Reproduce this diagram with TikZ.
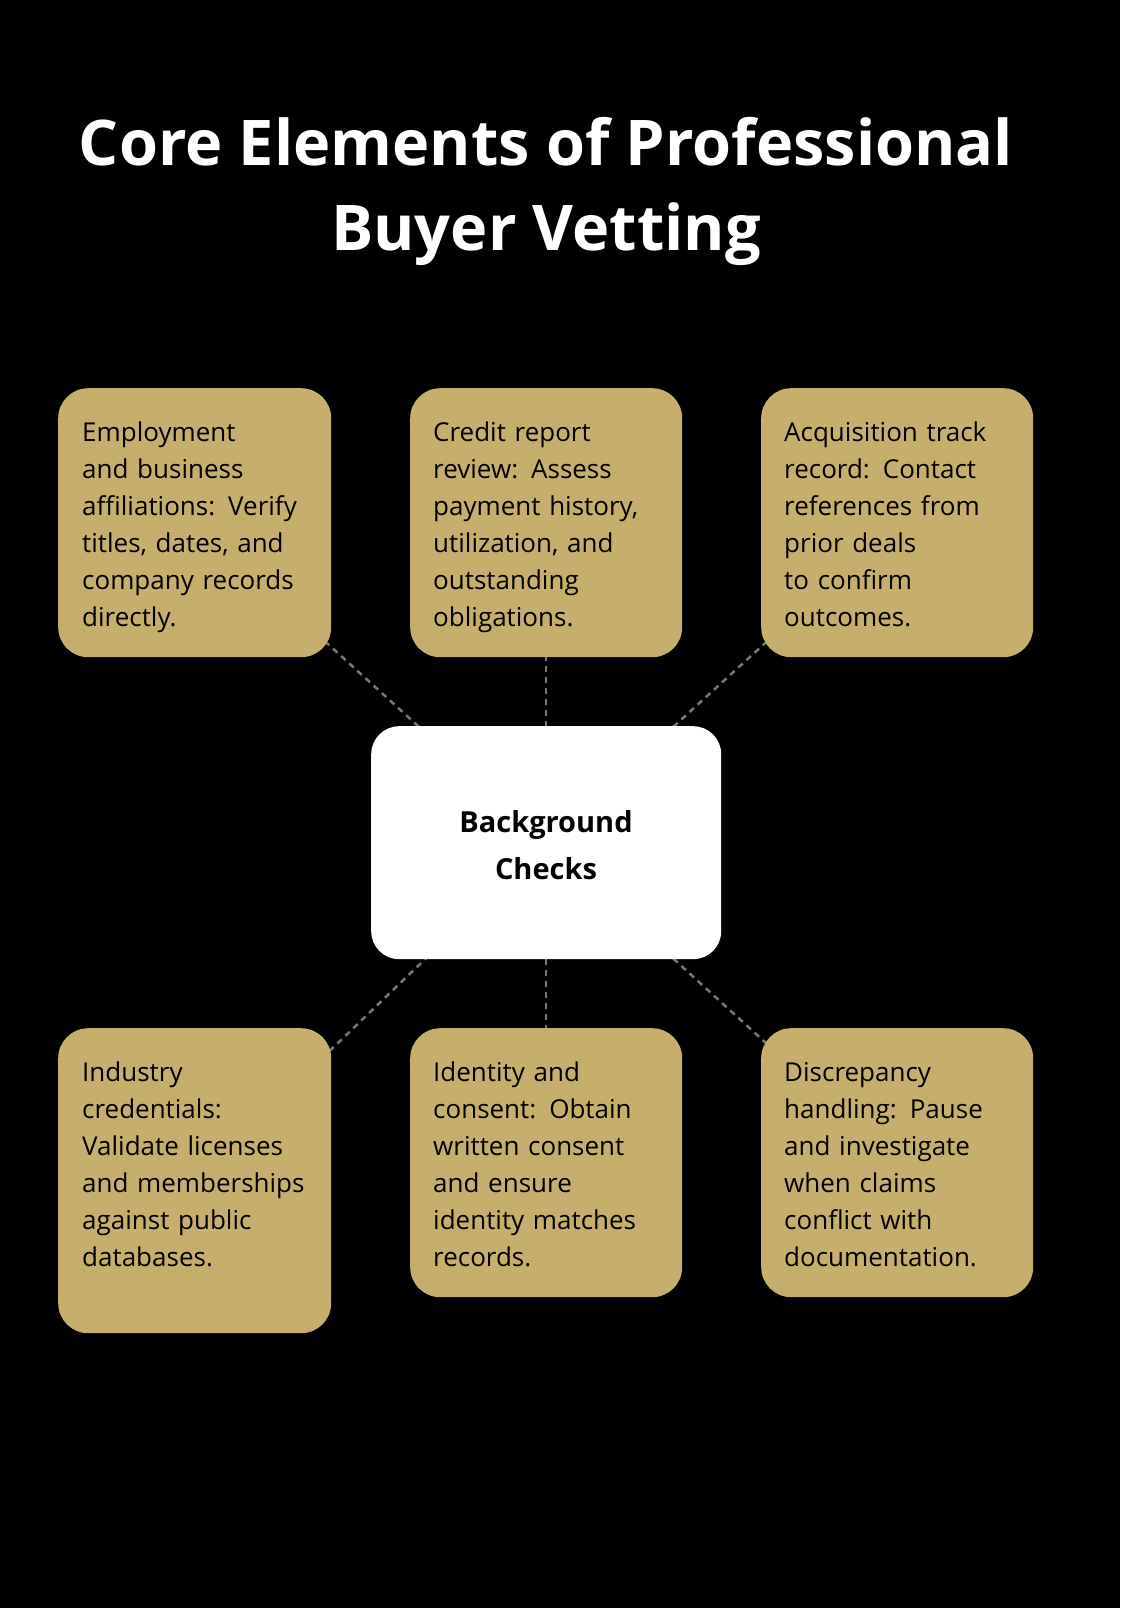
\documentclass[tikz,border=0pt]{standalone}
\usepackage{fontspec}
\setmainfont{Open Sans}
\usetikzlibrary{backgrounds}
\hyphenpenalty=10000
\exhyphenpenalty=10000
\definecolor{gold}{HTML}{C6AF6C}
\definecolor{dash}{HTML}{777777}
\tikzset{
 card/.style={fill=gold,rounded corners=30pt,anchor=north west,inner sep=0pt},
 cardtext/.style={anchor=base west,text width=228pt,align=left,inner sep=0pt,font=\fontsize{26}{37}\selectfont,text=black},
 link/.style={draw=dash,line width=2.5pt,dash pattern=on 6pt off 5pt},
}
\begin{document}
\begin{tikzpicture}[x=1pt,y=-1pt]
\node[font=\fontsize{63}{85}\selectfont\bfseries,text=white,align=center,anchor=base] (title) at (546,250) {Core Elements of Professional\\Buyer Vetting};
\node[card,minimum width=273pt,minimum height=269pt] (b1) at (58,388) {};
\node[card,minimum width=272pt,minimum height=269pt] (b2) at (410,388) {};
\node[card,minimum width=272pt,minimum height=269pt] (b3) at (761,388) {};
\node[card,minimum width=273pt,minimum height=305pt] (b4) at (58,1028) {};
\node[card,minimum width=272pt,minimum height=269pt] (b5) at (410,1028) {};
\node[card,minimum width=272pt,minimum height=269pt] (b6) at (761,1028) {};
\node[fill=white,rounded corners=28pt,minimum width=350pt,minimum height=233pt,anchor=north west,inner sep=0pt] (c) at (371,726) {};
\begin{scope}[on background layer]
\fill[black] (0,0) rectangle (1120,1608);
\draw[link] (b1.center) -- (c.center);
\draw[link] (b2.center) -- (c.center);
\draw[link] (b3.center) -- (c.center);
\draw[link] (b4.center) -- (c.center);
\draw[link] (b5.center) -- (c.center);
\draw[link] (b6.center) -- (c.center);
\end{scope}
\node[cardtext] (t1) at (82,441) {Employment and business affiliations: Verify titles, dates, and company records directly.};
\node[cardtext] (t2) at (433,441) {Credit report review: Assess payment history, utilization, and outstanding obligations.};
\node[cardtext] (t3) at (784,441) {Acquisition track record: Contact references from prior deals to confirm outcomes.};
\node[cardtext] (t4) at (82,1081) {Industry credentials: Validate licenses and memberships against public databases.};
\node[cardtext] (t5) at (433,1081) {Identity and consent: Obtain written consent and ensure identity matches records.};
\node[cardtext] (t6) at (784,1081) {Discrepancy handling: Pause and investigate when claims conflict with documentation.};
\node[font=\fontsize{29}{47}\selectfont\bfseries,align=center,anchor=base,inner sep=0pt] (ct) at (546,879) {Background\\Checks};
\pgfresetboundingbox
\useasboundingbox (0,0) rectangle (1120,1608);
\end{tikzpicture}
\end{document}
